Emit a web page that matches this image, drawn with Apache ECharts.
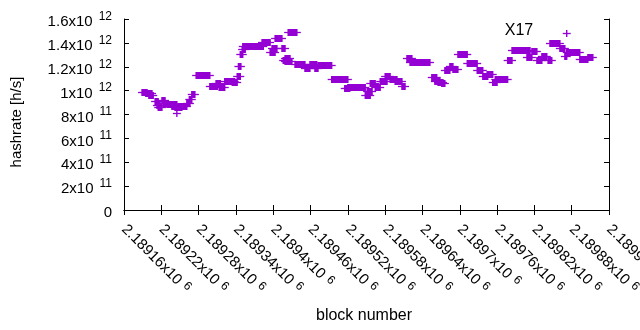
<!DOCTYPE html>
<html>
<head>
<meta charset="utf-8">
<script src="https://cdn.jsdelivr.net/npm/echarts@6/dist/echarts.min.js"></script>
<style>
  html, body { margin: 0; padding: 0; background: #fff; }
  #chart { width: 640px; height: 330px; }
</style>
</head>
<body>
<div id="chart"></div>
<script>
// runs of equal hashrate: first block, last block, value [h/s]
const runStart = [2189189, 2189195, 2189200, 2189210, 2189213, 2189215, 2189221, 2189223, 2189229, 2189234,
  2189237, 2189245, 2189242, 2189247, 2189261, 2189265, 2189269, 2189276, 2189298, 2189308,
  2189313, 2189322, 2189334, 2189342, 2189344, 2189347, 2189350, 2189351, 2189382, 2189395,
  2189398, 2189403, 2189414, 2189419, 2189416, 2189424, 2189419, 2189435, 2189451, 2189459,
  2189467, 2189472, 2189494, 2189515, 2189520, 2189548, 2189551, 2189556, 2189564, 2189572,
  2189580, 2189588, 2189596, 2189607, 2189615, 2189620, 2189655, 2189660, 2189665, 2189671,
  2189676, 2189684, 2189689, 2189697, 2189712, 2189728, 2189737, 2189744, 2189753, 2189757,
  2189777, 2189784, 2189808, 2189816, 2189824, 2189832, 2189842, 2189845, 2189861, 2189869,
  2189872, 2189872, 2189893, 2189906];
const runEnd = [2189197, 2189205, 2189207, 2189215, 2189218, 2189221, 2189226, 2189231, 2189234, 2189245,
  2189245, 2189245, 2189253, 2189261, 2189266, 2189269, 2189274, 2189298, 2189310, 2189315,
  2189322, 2189338, 2189342, 2189347, 2189348, 2189351, 2189355, 2189384, 2189395, 2189403,
  2189406, 2189414, 2189419, 2189427, 2189424, 2189438, 2189430, 2189451, 2189459, 2189470,
  2189472, 2189494, 2189520, 2189523, 2189548, 2189556, 2189559, 2189564, 2189572, 2189583,
  2189588, 2189599, 2189607, 2189612, 2189623, 2189652, 2189663, 2189668, 2189673, 2189676,
  2189684, 2189689, 2189697, 2189712, 2189728, 2189737, 2189745, 2189753, 2189760, 2189777,
  2189784, 2189813, 2189816, 2189824, 2189832, 2189840, 2189848, 2189861, 2189869, 2189872,
  2189872, 2189893, 2189906, 2189914];
const runValue = [0.99e12, 0.98e12, 0.96e12, 0.91e12, 0.88e12, 0.86e12, 0.92e12, 0.90e12, 0.89e12, 0.89e12,
  0.87e12, 0.81e12, 0.86e12, 0.87e12, 0.90e12, 0.93e12, 0.97e12, 1.13e12, 1.04e12, 1.06e12,
  1.03e12, 1.08e12, 1.07e12, 1.12e12, 1.21e12, 1.31e12, 1.35e12, 1.37e12, 1.41e12, 1.32e12,
  1.36e12, 1.44e12, 1.36e12, 1.27e12, 1.26e12, 1.49e12, 1.25e12, 1.22e12, 1.19e12, 1.22e12,
  1.19e12, 1.215e12, 1.10e12, 1.02e12, 1.03e12, 0.96e12, 1.00e12, 1.06e12, 1.03e12, 1.08e12,
  1.12e12, 1.10e12, 1.08e12, 1.04e12, 1.27e12, 1.24e12, 1.11e12, 1.08e12, 1.07e12, 1.06e12,
  1.17e12, 1.21e12, 1.18e12, 1.31e12, 1.23e12, 1.17e12, 1.12e12, 1.14e12, 1.07e12, 1.10e12,
  1.26e12, 1.34e12, 1.28e12, 1.33e12, 1.26e12, 1.29e12, 1.26e12, 1.40e12, 1.36e12, 1.29e12,
  1.48e12, 1.325e12, 1.265e12, 1.28e12];

const xMin = 2189160, xMax = 2189940, xStep = 60;
const yMin = 0, yMax = 1.6e12, yStep = 2e11;

const color = '#9400d3';
const font = '"Liberation Sans", Arial, sans-serif';

// "m x10^e" as rich text
function sup(m, e) { return '{m|' + m + 'x10}{e|' + e + '}'; }
function xLabel(v) { return sup(+(v / 1e6).toFixed(5), 6); }
function yLabel(v) {
  if (v === 0) return '{m|0}';
  const e = Math.floor(Math.log10(v) + 1e-9);
  return sup(+(v / Math.pow(10, e)).toFixed(3), e);
}
const yRich = {
  m: { fontSize: 15, fontFamily: font, color: '#000', padding: [6, 0, 0, 0] },
  e: { fontSize: 12, fontFamily: font, color: '#000', padding: [0, 0, 5, 6] }
};
const xRich = {
  m: { fontSize: 15, fontFamily: font, color: '#000' },
  e: { fontSize: 12, fontFamily: font, color: '#000', padding: [0, 0, 6, 5] }
};

const tickStyle = { inside: true, length: 5, lineStyle: { color: '#000' } };
const lineStyle = { show: true, lineStyle: { color: '#000', width: 1 } };

const chart = echarts.init(document.getElementById('chart'), null, { renderer: 'canvas' });
chart.setOption({
  animation: false,
  backgroundColor: '#fff',
  grid: { left: 124, right: 31, top: 19, bottom: 120, outerBoundsMode: 'none' },
  xAxis: [{
    type: 'value', min: xMin, max: xMax, interval: xStep,
    axisLine: lineStyle, axisTick: tickStyle, splitLine: { show: false },
    axisLabel: { rotate: -45, margin: 17, formatter: xLabel, rich: xRich, showMinLabel: true, showMaxLabel: true, hideOverlap: false }
  }, {
    type: 'value', position: 'top', min: xMin, max: xMax, interval: xStep,
    axisLine: lineStyle, axisTick: tickStyle, splitLine: { show: false }, axisLabel: { show: false }
  }],
  yAxis: [{
    type: 'value', min: yMin, max: yMax, interval: yStep,
    axisLine: lineStyle, axisTick: tickStyle, splitLine: { show: false },
    axisLabel: { margin: 12, formatter: yLabel, rich: yRich, align: 'right' }
  }, {
    type: 'value', position: 'right', min: yMin, max: yMax, interval: yStep,
    axisLine: lineStyle, axisTick: tickStyle, splitLine: { show: false }, axisLabel: { show: false }
  }],
  graphic: [
    { type: 'text', x: 17, y: 122, rotation: Math.PI / 2,
      style: { text: 'hashrate [h/s]', font: '15px ' + font, fill: '#000', align: 'center', verticalAlign: 'middle' } },
    { type: 'text', x: 364, y: 316,
      style: { text: 'block number', font: '16px ' + font, fill: '#000', align: 'center', verticalAlign: 'middle' } },
    { type: 'text', x: 519, y: 31,
      style: { text: 'X17', font: '16px ' + font, fill: '#000', align: 'center', verticalAlign: 'middle' } }
  ],
  series: [{
    type: 'custom',
    clip: true,
    data: runStart.map((s, i) => [s, runEnd[i], runValue[i]]),
    encode: { x: [0, 1], y: 2 },
    renderItem: function (params, api) {
      const a = api.coord([api.value(0), api.value(2)]);
      const b = api.coord([api.value(1), api.value(2)]);
      const y = Math.round(a[1]) + 0.5;
      return {
        type: 'group',
        children: [
          { type: 'rect', shape: { x: a[0] - 0.7, y: y - 3.5, width: b[0] - a[0] + 1.4, height: 7 }, style: { fill: color } },
          { type: 'line', shape: { x1: a[0] - 4, y1: y, x2: b[0] + 4, y2: y }, style: { stroke: color, lineWidth: 1.3 } }
        ]
      };
    }
  }]
});
</script>
</body>
</html>
